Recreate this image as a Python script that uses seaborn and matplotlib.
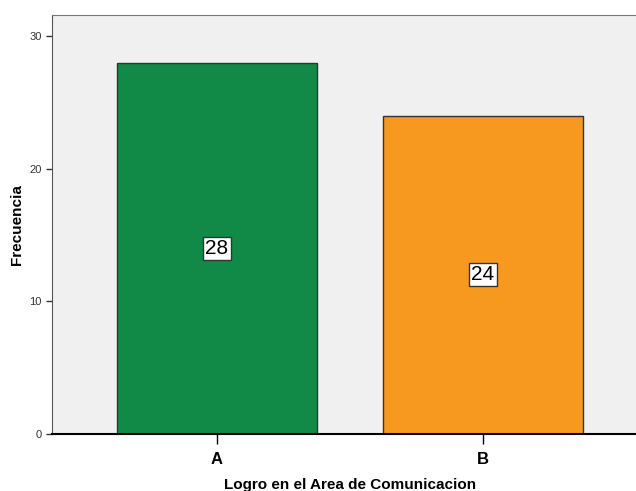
import pandas as pd
import seaborn as sns
import matplotlib.pyplot as plt

# datos del grafico
categorias = ['A', 'B']
frecuencias = [28, 24]
colores = ['#128a47', '#f7991f']

df = pd.DataFrame({'Logro': categorias, 'Frecuencia': frecuencias})

sns.set_style('white')
plt.rcParams['font.family'] = ['Liberation Sans', 'DejaVu Sans']
plt.rcParams['axes.labelcolor'] = 'black'
plt.rcParams['text.color'] = 'black'

fig = plt.figure(figsize=(6.36, 4.91), dpi=100)
ax = fig.add_axes([52 / 636, 57 / 491, 596 / 636, 419 / 491])
ax.set_facecolor('#f0f0f0')

sns.barplot(data=df, x='Logro', y='Frecuencia', hue='Logro', palette=colores,
            saturation=1, width=0.75, edgecolor='#333333', linewidth=1,
            legend=False, ax=ax)

# etiquetas dentro de las barras
for i, v in enumerate(frecuencias):
    ax.text(i, v / 2, str(v), ha='center', va='center', fontsize=15, color='black',
            bbox=dict(boxstyle='square,pad=0.1', fc='white', ec='#333333', lw=1))

ax.set_xlim(-0.62, 1.62)
ax.set_ylim(0, 31.6)
ax.set_yticks([0, 10, 20, 30])

ax.set_xlabel('Logro en el Area de Comunicacion', fontsize=11, fontweight='bold', labelpad=8)
ax.set_ylabel('Frecuencia', fontsize=11, fontweight='bold', labelpad=4)

ax.tick_params(axis='y', direction='out', length=4, width=1, labelsize=8, colors='#333333', left=True)
ax.tick_params(axis='x', direction='out', length=7, width=1, labelsize=12, bottom=True, pad=6,
               colors='black')
for lbl in ax.get_xticklabels():
    lbl.set_fontweight('bold')

for s in ['top', 'right']:
    ax.spines[s].set_color('#777777')
ax.spines['left'].set_color('#555555')
ax.spines['bottom'].set_color('black')
ax.spines['bottom'].set_linewidth(1.5)

plt.savefig('out.png', dpi=100)
plt.close()
